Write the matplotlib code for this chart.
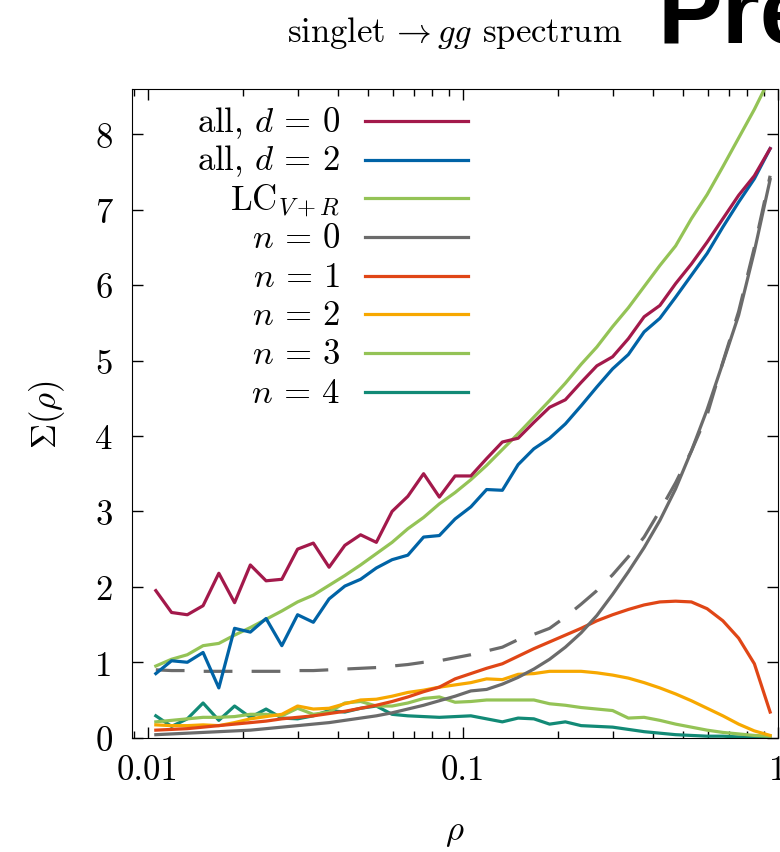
import numpy as np
import matplotlib
matplotlib.use('Agg')
import matplotlib.pyplot as plt

plt.rcParams['font.family'] = 'serif'
plt.rcParams['font.serif'] = ['cmr10']
plt.rcParams['mathtext.fontset'] = 'cm'
plt.rcParams['axes.formatter.use_mathtext'] = True

# bin centres: 20 bins per decade from 0.01 to 1
log_rho = [-1.975 + 0.05 * k for k in range(40)]
rho = [10 ** v for v in log_rho]

all_d0 = [1.95, 1.66, 1.63, 1.75, 2.18, 1.79, 2.29, 2.08, 2.10, 2.50,
          2.58, 2.26, 2.55, 2.69, 2.59, 3.00, 3.20, 3.50, 3.19, 3.47,
          3.47, 3.70, 3.92, 3.97, 4.18, 4.38, 4.48, 4.71, 4.93, 5.05,
          5.29, 5.58, 5.73, 6.02, 6.28, 6.57, 6.88, 7.19, 7.45, 7.81]
all_d2 = [0.85, 1.02, 1.00, 1.13, 0.66, 1.45, 1.40, 1.58, 1.22, 1.63,
          1.53, 1.84, 2.01, 2.10, 2.25, 2.36, 2.42, 2.66, 2.68, 2.90,
          3.06, 3.29, 3.28, 3.62, 3.83, 3.97, 4.16, 4.40, 4.65, 4.89,
          5.08, 5.38, 5.56, 5.84, 6.13, 6.42, 6.77, 7.10, 7.41, 7.81]
lc_vr = [0.95, 1.04, 1.10, 1.22, 1.25, 1.36, 1.46, 1.57, 1.68, 1.80,
         1.89, 2.02, 2.15, 2.29, 2.44, 2.59, 2.77, 2.92, 3.10, 3.25,
         3.42, 3.61, 3.82, 4.03, 4.25, 4.47, 4.70, 4.95, 5.18, 5.45,
         5.70, 5.98, 6.26, 6.52, 6.88, 7.20, 7.57, 7.95, 8.33, 8.75]
n0 = [0.04, 0.05, 0.06, 0.07, 0.08, 0.09, 0.10, 0.12, 0.14, 0.16,
      0.18, 0.20, 0.23, 0.26, 0.29, 0.33, 0.38, 0.43, 0.49, 0.55,
      0.62, 0.64, 0.71, 0.80, 0.91, 1.04, 1.20, 1.39, 1.62, 1.90,
      2.20, 2.52, 2.88, 3.30, 3.80, 4.35, 4.97, 5.60, 6.45, 7.40]
n0_dashed = [0.90, 0.89, 0.89, 0.88, 0.88, 0.88, 0.88, 0.88, 0.88, 0.89,
             0.89, 0.90, 0.91, 0.92, 0.93, 0.95, 0.97, 1.00, 1.02, 1.06,
             1.10, 1.15, 1.20, 1.30, 1.37, 1.45, 1.60, 1.77, 1.95, 2.16,
             2.40, 2.66, 3.01, 3.38, 3.80, 4.28, 4.98, 5.65, 6.50, 7.45]
n1 = [0.10, 0.11, 0.12, 0.14, 0.16, 0.18, 0.20, 0.22, 0.25, 0.27,
      0.29, 0.32, 0.35, 0.39, 0.43, 0.48, 0.54, 0.61, 0.67, 0.78,
      0.85, 0.92, 0.98, 1.08, 1.18, 1.27, 1.36, 1.45, 1.55, 1.63,
      1.70, 1.76, 1.80, 1.81, 1.80, 1.71, 1.55, 1.32, 0.98, 0.34]
n2 = [0.17, 0.16, 0.16, 0.17, 0.16, 0.20, 0.25, 0.28, 0.31, 0.42,
      0.38, 0.39, 0.45, 0.50, 0.51, 0.55, 0.60, 0.63, 0.67, 0.70,
      0.73, 0.78, 0.77, 0.84, 0.85, 0.88, 0.88, 0.88, 0.86, 0.83,
      0.79, 0.73, 0.66, 0.58, 0.49, 0.39, 0.29, 0.18, 0.09, 0.03]
n3 = [0.21, 0.23, 0.25, 0.27, 0.27, 0.28, 0.31, 0.31, 0.29, 0.39,
      0.31, 0.34, 0.46, 0.48, 0.42, 0.42, 0.46, 0.52, 0.54, 0.47,
      0.48, 0.50, 0.50, 0.50, 0.50, 0.45, 0.43, 0.40, 0.38, 0.36,
      0.26, 0.27, 0.23, 0.18, 0.14, 0.10, 0.07, 0.05, 0.03, 0.02]
n4 = [0.29, 0.15, 0.25, 0.46, 0.23, 0.42, 0.27, 0.38, 0.26, 0.25,
      0.29, 0.36, 0.34, 0.39, 0.42, 0.31, 0.29, 0.28, 0.27, 0.28,
      0.29, 0.25, 0.21, 0.26, 0.25, 0.18, 0.21, 0.16, 0.15, 0.14,
      0.11, 0.08, 0.06, 0.04, 0.03, 0.02, 0.02, 0.01, 0.01, 0.01]

labels = [r'all, $d\,=\,0$', r'all, $d\,=\,2$', r'LC$_{V+R}$',
          r'$n\,=\,0$', r'$n\,=\,1$', r'$n\,=\,2$', r'$n\,=\,3$', r'$n\,=\,4$']
colors = ['#a3194b', '#0063a6', '#94c356', '#6b6b6b',
          '#e04616', '#f7a800', '#94c356', '#128a76']
series = [all_d0, all_d2, lc_vr, n0, n1, n2, n3, n4]

fs = 25

fig = plt.figure(figsize=(7.8, 8.53), dpi=100)
ax = fig.add_axes([132 / 780, 114.3 / 853, 646 / 780, 648.7 / 853])

lw = 2.3
# draw order: lower curves first
ax.plot(rho, n0_dashed, color='#6b6b6b', lw=lw, dashes=(9, 6))
for i in [7, 6, 5, 4, 3, 2, 1, 0]:
    ax.plot(rho, series[i], color=colors[i], lw=lw)

ax.set_xscale('log')
ax.set_xlim(0.0089, 1.0)
ax.set_ylim(0, 8.6)
ax.set_xticks([0.01, 0.1, 1], ['0.01', '0.1', '1'])
ax.set_yticks(range(9), [str(v) for v in range(9)])
ax.tick_params(which='both', direction='in', top=True, right=True,
               labelsize=fs)
ax.tick_params(which='major', length=8, width=1)
ax.tick_params(which='minor', length=5, width=1)
ax.tick_params(axis='x', which='major', pad=12)
ax.tick_params(axis='y', which='major', pad=14)

ax.set_xlabel(r'$\rho$', fontsize=fs, labelpad=22)
ax.set_ylabel(r'$\Sigma(\rho)$', fontsize=fs, labelpad=20)

# legend in gnuplot style: text right aligned, sample to the right
for i, lab in enumerate(labels):
    yc = 0.951 - 0.0597 * i
    ax.text(0.322, yc - 0.0154, lab, ha='right', va='baseline',
            fontsize=fs, transform=ax.transAxes)
    ax.plot([0.3607, 0.5201], [yc, yc], color=colors[i], lw=lw,
            transform=ax.transAxes)

fig.text(455 / 780, 1 - 42 / 853, r'singlet$\,\rightarrow gg$ spectrum',
         ha='center', va='baseline', fontsize=fs)

fig.text(658 / 780, 1 - 43 / 853, 'Pre', ha='left', va='baseline',
         fontsize=70, fontweight='bold', family='Liberation Sans')

fig.savefig('out.png', dpi=100)
